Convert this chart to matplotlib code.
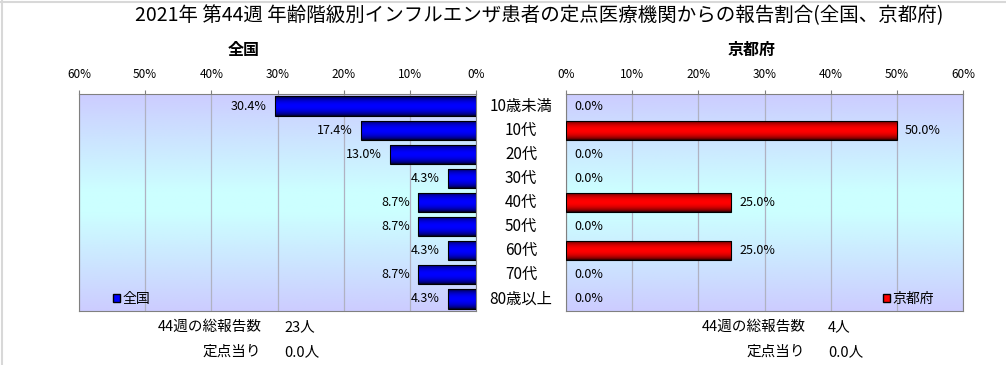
import matplotlib
matplotlib.use('Agg')
import matplotlib.pyplot as plt
import numpy as np
from matplotlib.colors import LinearSegmentedColormap
from matplotlib.patches import Patch
from matplotlib.lines import Line2D
from matplotlib.transforms import blended_transform_factory

plt.rcParams['font.family'] = ['Noto Sans CJK JP', 'DejaVu Sans']

W, H = 1006, 365

title = '2021年 第44週 年齢階級別インフルエンザ患者の定点医療機関からの報告割合(全国、京都府)'
age_groups = ['10歳未満', '10代', '20代', '30代', '40代', '50代', '60代', '70代', '80歳以上']
national = [30.4, 17.4, 13.0, 4.3, 8.7, 8.7, 4.3, 8.7, 4.3]
kyoto = [0.0, 50.0, 0.0, 0.0, 25.0, 0.0, 25.0, 0.0, 0.0]
ticks = [0, 10, 20, 30, 40, 50, 60]
tick_labels = ['0%', '10%', '20%', '30%', '40%', '50%', '60%']
national_total, national_per = '23人', '0.0人'
kyoto_total, kyoto_per = '4人', '0.0人'


def fx(x):
    return x / W


def fy(y):
    return 1 - y / H


bg_cmap = LinearSegmentedColormap.from_list(
    'bg', [(0, '#ccccff'), (0.45, '#ccffff'), (0.55, '#ccffff'), (1, '#ccccff')])
blue_cmap = LinearSegmentedColormap.from_list('b', ['#00001a', '#0000ff'])
red_cmap = LinearSegmentedColormap.from_list('r', ['#1a0000', '#ff0000'])

# vertical shading of each bar: dark edges, bright middle
t = np.linspace(0, 1, 64)
bar_shade = (np.sin(np.pi * t) ** 0.6).reshape(-1, 1)

fig = plt.figure(figsize=(W / 100, H / 100), dpi=100)
fig.patch.set_facecolor('white')
ax_l = fig.add_axes([fx(79), fy(311), (476 - 79) / W, (311 - 94) / H])
ax_r = fig.add_axes([fx(566), fy(311), (963 - 566) / W, (311 - 94) / H])


def draw_side(ax, values, cmap, left_side):
    ypos = np.arange(len(values))
    ax.imshow(np.linspace(0, 1, 256).reshape(-1, 1), cmap=bg_cmap, extent=[0, 1, 0, 1],
              transform=ax.transAxes, aspect='auto', zorder=0)
    bars = ax.barh(ypos, values, height=0.8, facecolor='none', edgecolor='black',
                   linewidth=0.8, zorder=3)
    for bar, v in zip(bars, values):
        if v > 0:
            x0, y0 = bar.get_x(), bar.get_y()
            im = ax.imshow(bar_shade, cmap=cmap, aspect='auto', zorder=2,
                           extent=[x0, x0 + bar.get_width(), y0, y0 + bar.get_height()])
            im.set_clip_path(bar)
        else:
            bar.set_linewidth(0)
    for i, v in enumerate(values):
        off = -8 if left_side else 8
        ax.annotate(f'{v:.1f}%', xy=(v, i), xytext=(off, 0), textcoords='offset pixels',
                    ha='right' if left_side else 'left', va='center', fontsize=9, zorder=4)
    if left_side:
        ax.set_xlim(60, 0)
    else:
        ax.set_xlim(0, 60)
    ax.set_ylim(len(values) - 0.5, -0.5)
    ax.set_xticks(ticks)
    ax.set_xticklabels(tick_labels)
    ax.xaxis.tick_top()
    ax.tick_params(axis='x', length=3, color='#808080', pad=6, labelsize=8.5)
    ax.set_yticks([])
    ax.set_axisbelow(True)
    ax.grid(axis='x', color='#b0b2c2', linewidth=0.9)
    for s in ax.spines.values():
        s.set_color('#808080')


draw_side(ax_l, national, blue_cmap, True)
draw_side(ax_r, kyoto, red_cmap, False)

# category labels between the two panels
trans = blended_transform_factory(fig.transFigure, ax_l.transData)
for i, lab in enumerate(age_groups):
    ax_l.text(fx(521), i, lab, transform=trans, ha='center', va='center',
              fontsize=11, clip_on=False)

# legends
ax_l.legend(handles=[Patch(facecolor='#0000ff', edgecolor='black', label='全国')],
            loc='center left', bbox_to_anchor=(fx(113), fy(299)), bbox_transform=fig.transFigure,
            frameon=False, handlelength=0.5, handleheight=0.5, handletextpad=0.2,
            borderpad=0, borderaxespad=0, fontsize=10)
ax_r.legend(handles=[Patch(facecolor='#ff0000', edgecolor='black', label='京都府')],
            loc='center left', bbox_to_anchor=(fx(883), fy(299)), bbox_transform=fig.transFigure,
            frameon=False, handlelength=0.5, handleheight=0.5, handletextpad=0.2,
            borderpad=0, borderaxespad=0, fontsize=10)

# titles
fig.text(fx(539), fy(16), title, ha='center', va='center', fontsize=14)
fig.text(fx(244), fy(50), '全国', ha='center', va='center', fontsize=11.5, fontweight='bold')
fig.text(fx(752), fy(50), '京都府', ha='center', va='center', fontsize=11.5, fontweight='bold')

# totals below each panel
fs = 10.5
fig.text(fx(262), fy(327), '44週の総報告数', ha='right', va='center', fontsize=fs)
fig.text(fx(284), fy(327), national_total, ha='left', va='center', fontsize=fs)
fig.text(fx(261), fy(352), '定点当り', ha='right', va='center', fontsize=fs)
fig.text(fx(284), fy(352), national_per, ha='left', va='center', fontsize=fs)
fig.text(fx(806), fy(327), '44週の総報告数', ha='right', va='center', fontsize=fs)
fig.text(fx(828), fy(327), kyoto_total, ha='left', va='center', fontsize=fs)
fig.text(fx(805), fy(352), '定点当り', ha='right', va='center', fontsize=fs)
fig.text(fx(828), fy(352), kyoto_per, ha='left', va='center', fontsize=fs)

# light frame on top and left edge
fig.add_artist(Line2D([fx(1.5), fx(1.5)], [0, 1], color='#d8d8d8', lw=1.5, transform=fig.transFigure))
fig.add_artist(Line2D([0, 1], [fy(1.5), fy(1.5)], color='#d8d8d8', lw=1.5, transform=fig.transFigure))

fig.savefig('out.png', dpi=100)
